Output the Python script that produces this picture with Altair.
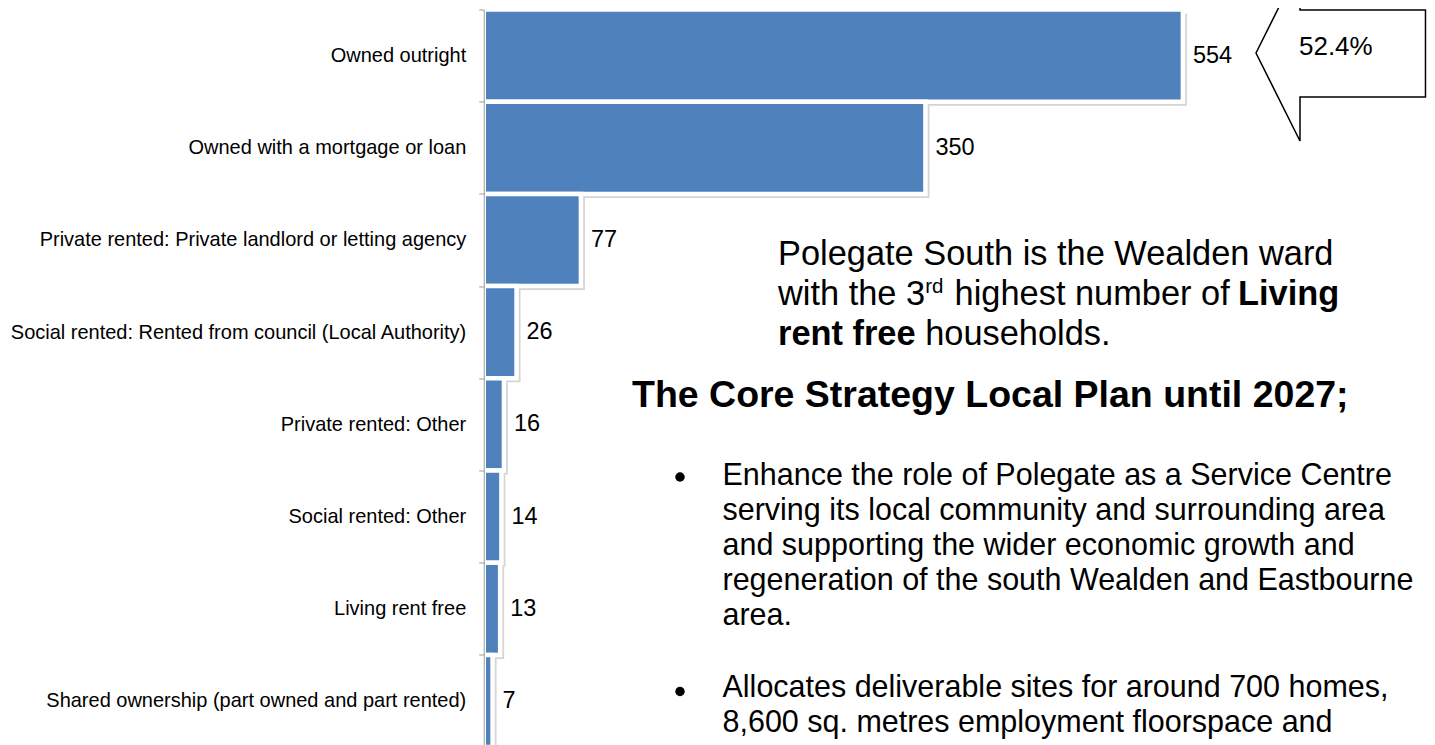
import altair as alt
import pandas as pd

# ---------------- data ----------------
categories = [
    "Owned outright",
    "Owned with a mortgage or loan",
    "Private rented: Private landlord or letting agency",
    "Social rented: Rented from council (Local Authority)",
    "Private rented: Other",
    "Social rented: Other",
    "Living rent free",
    "Shared ownership (part owned and part rented)",
]
values = [554, 350, 77, 26, 16, 14, 13, 7]

arrow_label = "52.4%"
intro_line1 = "Polegate South is the Wealden ward"
intro_line2 = ["with the 3", "rd", "highest number of", "Living"]
intro_line3 = ["rent free", "households."]
heading = "The Core Strategy Local Plan until 2027;"
bullet1_lines = [
    "Enhance the role of Polegate as a Service Centre",
    "serving its local community and surrounding area",
    "and supporting the wider economic growth and",
    "regeneration of the south Wealden and Eastbourne",
    "area.",
]
bullet2_lines = [
    "Allocates deliverable sites for around 700 homes,",
    "8,600 sq. metres employment floorspace and",
]

df = pd.DataFrame({"category": categories, "value": values})

# ---------------- layout ----------------
FONT = "Liberation Sans"
PAD_LEFT = 475.75
PAD_TOP = 1.5
PAD_RIGHT = 2.25
ORIGIN_X = 8 + PAD_LEFT   # page x of plot origin
ORIGIN_Y = 8 + PAD_TOP    # page y of plot origin
W = 941
PX_PER_UNIT = 1.262
H = 737.6

x = alt.X(
    "value:Q",
    scale=alt.Scale(domain=[0, W / PX_PER_UNIT], nice=False, zero=True),
    axis=None,
)
y = alt.Y(
    "category:N",
    sort=categories,
    scale=alt.Scale(paddingInner=0, paddingOuter=0),
    axis=alt.Axis(
        title=None,
        labelFontSize=20,
        labelFont=FONT,
        labelColor="black",
        labelLimit=700,
        labelPadding=13,
        tickSize=5,
        tickColor="#9a9a9a",
        domainColor="#9a9a9a",
        tickBand="extent",
        grid=False,
        zindex=1,
    ),
)

base = alt.Chart(df)
shadow = base.mark_bar(color="#d4d4d4", xOffset=4, yOffset=4).encode(x=x, y=y)
bars = base.mark_bar(color="#4F81BD", stroke="white", strokeWidth=4.5).encode(x=x, y=y)
value_labels = base.mark_text(
    align="left", baseline="middle", dx=10, fontSize=23.5, font=FONT, color="black"
).encode(x=x, y=y, text="value:Q")


def note(text, px, py, size, weight="normal", align="left", baseline="alphabetic"):
    return alt.Chart(pd.DataFrame({"t": [text]})).mark_text(
        align=align, baseline=baseline, fontSize=size, fontWeight=weight,
        font=FONT, color="black",
    ).encode(x=alt.value(px - ORIGIN_X), y=alt.value(py - ORIGIN_Y), text="t:N")


# left-pointing block arrow, unit coordinates (scaled by sqrt(size)/2 = 88 px)
ARROW_PATH = "M-1,0L-0.5,-1L-0.5,-0.489L0.926,-0.489L0.926,0.5L-0.5,0.5L-0.5,1Z"
arrow = alt.Chart(pd.DataFrame({"a": [0]})).mark_point(
    shape=ARROW_PATH, size=176 ** 2, filled=True, fill="white", stroke="black",
    strokeWidth=1.5, opacity=1, fillOpacity=1, strokeOpacity=1,
).encode(x=alt.value(1344 - ORIGIN_X), y=alt.value(53 - ORIGIN_Y))


def bullet_dot(px, py):
    return alt.Chart(pd.DataFrame({"a": [0]})).mark_point(
        shape="circle", filled=True, color="black", size=90, opacity=1
    ).encode(x=alt.value(px - ORIGIN_X), y=alt.value(py - ORIGIN_Y))


layers = [shadow, bars, value_labels, arrow, note(arrow_label, 1299, 55, 26)]

# intro paragraph
layers += [
    note(intro_line1, 778, 265.3, 34.4),
    note(intro_line2[0], 778, 305.3, 34.4),
    note(intro_line2[1], 925.2, 293, 20.5),
    note(intro_line2[2], 954.6, 305.3, 34.4),
    note(intro_line2[3], 1238, 305.3, 34.4, weight="bold"),
    note(intro_line3[0], 778, 345.3, 34.4, weight="bold"),
    note(intro_line3[1], 925.2, 345.3, 34.4),
]

# heading
layers.append(note(heading, 632, 406.7, 37.5, weight="bold"))

# bullets
for i, line in enumerate(bullet1_lines):
    layers.append(note(line, 722.5, 485 + 35 * i, 30.5))
for i, line in enumerate(bullet2_lines):
    layers.append(note(line, 722.5, 697 + 35 * i, 30.5))
layers.append(bullet_dot(680, 477))
layers.append(bullet_dot(680, 691.5))

chart = (
    alt.layer(*layers)
    .properties(
        width=W,
        height=H,
        autosize=alt.AutoSizeParams(type="none"),
        padding={"left": PAD_LEFT, "top": PAD_TOP, "right": PAD_RIGHT, "bottom": 4},
        background="white",
    )
    .configure_view(stroke=None)
)

chart.save("out.html", embed_options={"renderer": "svg", "actions": False})
